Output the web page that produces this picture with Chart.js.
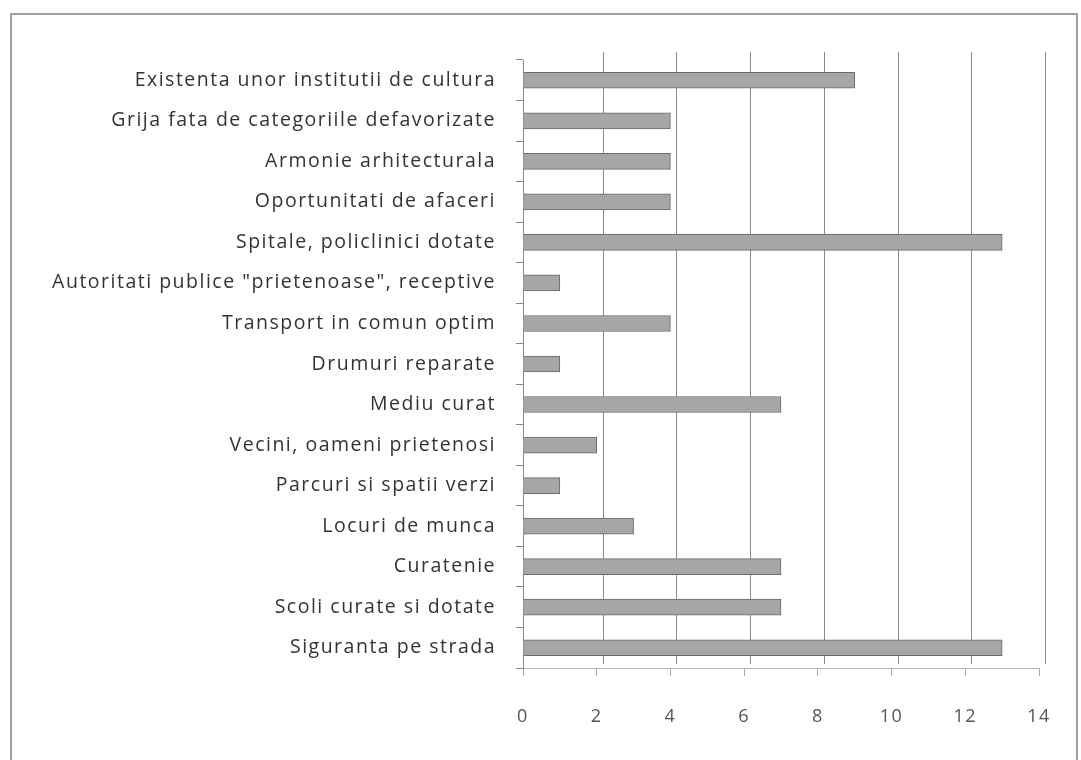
<!DOCTYPE html>
<html>
<head>
<meta charset="utf-8">
<script src="https://cdn.jsdelivr.net/npm/chart.js@4.4.1/dist/chart.umd.min.js"></script>
<style>
html,body{margin:0;padding:0;background:#fff;}
#wrap{position:absolute;left:0;top:0;width:1081px;height:760px;}
</style>
</head>
<body>
<div id="wrap"><canvas id="c" width="1081" height="760"></canvas></div>
<script>
const categories = [
  "Existenta unor institutii de cultura",
  "Grija fata de categoriile defavorizate",
  "Armonie arhitecturala",
  "Oportunitati de afaceri",
  "Spitale, policlinici dotate",
  "Autoritati publice \"prietenoase\", receptive",
  "Transport in comun optim",
  "Drumuri reparate",
  "Mediu curat",
  "Vecini, oameni prietenosi",
  "Parcuri si spatii verzi",
  "Locuri de munca",
  "Curatenie",
  "Scoli curate si dotate",
  "Siguranta pe strada"
];
const values = [9, 4, 4, 4, 13, 1, 4, 1, 7, 2, 1, 3, 7, 7, 13];
const xMin = 0, xMax = 14, xStep = 2;

const spacingPlugin = {
  id: 'spacing',
  beforeLayout(chart) { chart.ctx.letterSpacing = '1.5px'; },
  beforeDraw(chart) { chart.ctx.letterSpacing = '1.5px'; }
};

const framePlugin = {
  id: 'frame',
  beforeDraw(chart) {
    const ctx = chart.ctx;
    ctx.save();
    ctx.fillStyle = '#fff';
    ctx.fillRect(0, 0, chart.width, chart.height);
    ctx.strokeStyle = '#a0a0a0';
    ctx.lineWidth = 2;
    ctx.beginPath();
    ctx.moveTo(11, 770);
    ctx.lineTo(11, 14);
    ctx.lineTo(1077, 14);
    ctx.lineTo(1077, 770);
    ctx.stroke();
    ctx.restore();
  }
};

// back-wall grid lines, shifted a few pixels right like the 3D original
const wallGrid = {
  id: 'wallGrid',
  beforeDatasetsDraw(chart) {
    const ctx = chart.ctx, xs = chart.scales.x, a = chart.chartArea;
    ctx.save();
    ctx.strokeStyle = '#8a8a8a';
    ctx.lineWidth = 1;
    for (let v = xMin + xStep; v <= xMax; v += xStep) {
      const px = Math.round(xs.getPixelForValue(v)) + 6.5;
      ctx.beginPath();
      ctx.moveTo(px, a.top - 8);
      ctx.lineTo(px, a.bottom - 4);
      ctx.stroke();
    }
    ctx.restore();
  }
};

new Chart(document.getElementById('c'), {
  type: 'bar',
  data: {
    labels: categories,
    datasets: [{
      data: values,
      backgroundColor: '#a6a6a6',
      borderColor: '#6a6a6a',
      borderWidth: 1,
      barThickness: 16
    }]
  },
  options: {
    indexAxis: 'y',
    responsive: false,
    animation: false,
    layout: { padding: { top: 60, right: 42, left: 0, bottom: 0 } },
    plugins: { legend: { display: false }, tooltip: { enabled: false } },
    scales: {
      x: {
        min: xMin, max: xMax,
        ticks: { stepSize: xStep, color: '#555', padding: 30, font: { family: 'Open Sans', size: 18 } },
        grid: { drawOnChartArea: false, tickLength: 8, tickColor: '#aaa' },
        border: { color: '#b5b5b5' },
        afterFit(s) { s.height = 92; }
      },
      y: {
        offset: true,
        ticks: { color: '#333', padding: 20, font: { family: 'Open Sans', size: 19.5 } },
        grid: { offset: true, drawOnChartArea: false, tickLength: 7, tickColor: '#888' },
        border: { color: '#8c8c8c' },
        afterFit(s) { s.width = 523; }
      }
    }
  },
  plugins: [spacingPlugin, framePlugin, wallGrid]
});
</script>
</body>
</html>
